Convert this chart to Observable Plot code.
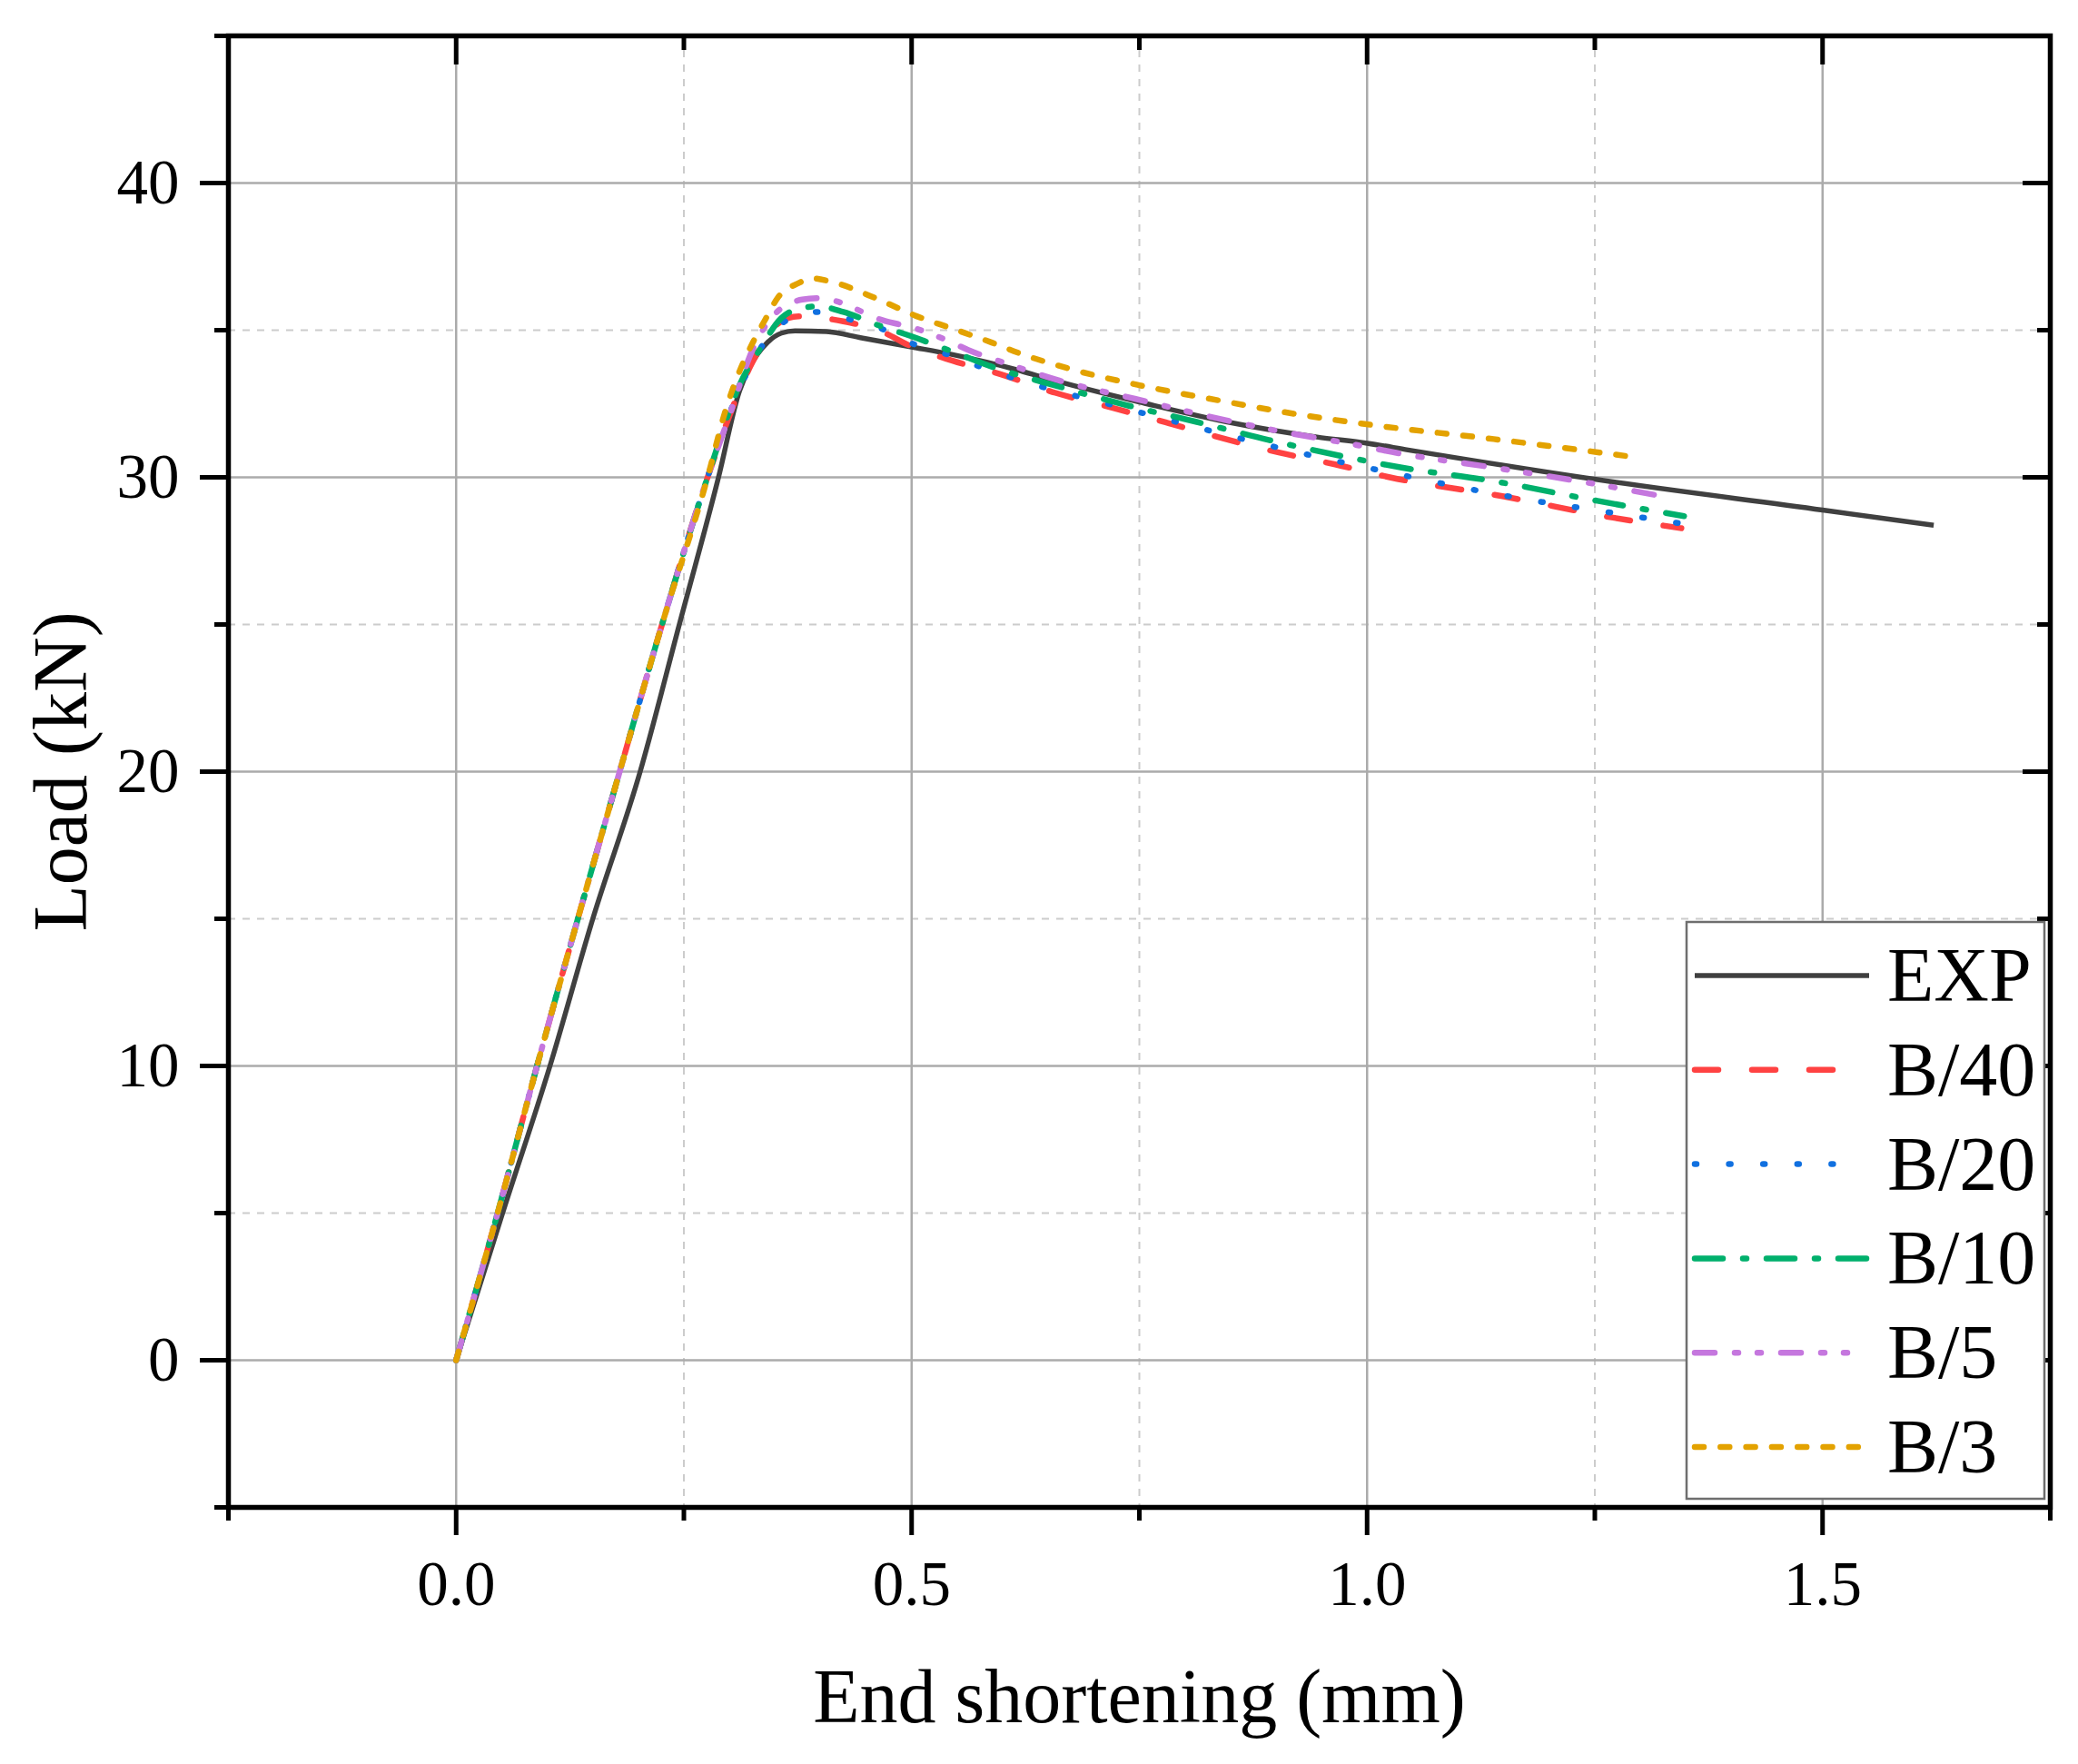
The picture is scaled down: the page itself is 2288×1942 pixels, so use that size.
<!DOCTYPE html>
<html>
<head>
<meta charset="utf-8">
<script src="https://cdn.jsdelivr.net/npm/d3@7"></script>
<script src="https://cdn.jsdelivr.net/npm/@observablehq/plot@0.6"></script>
<style>
  html, body { margin: 0; padding: 0; background: #fff; }
  #chart { width: 2288px; height: 1942px; }
</style>
</head>
<body>
<div id="chart"></div>
<script>
// ---- series meta ----
const seriesNames  = ["EXP", "B/40", "B/20", "B/10", "B/5", "B/3"];
const seriesColors = ["#404040", "#ff4242", "#1070e0", "#00b06c", "#c577de", "#e3a200"];
const seriesDash   = [null, "26 37", "2 35.6", "31 22 4 22", "22 22 4 21 4 22", "10 18.3"];

// ---- data (end shortening mm, load kN) ----
const expX = [0, 0.051, 0.103, 0.150, 0.202, 0.245, 0.288, 0.311, 0.3225, 0.342, 0.357, 0.372, 0.4065, 0.445, 0.50, 0.545, 0.616, 0.645, 0.75, 0.845, 0.945, 1.0, 1.045, 1.253, 1.5, 1.622];
const expY = [0, 5, 10, 15, 20, 25, 30, 32.93, 33.76, 34.59, 34.9, 34.98, 34.95, 34.74, 34.43, 34.17, 33.65, 33.39, 32.56, 31.89, 31.37, 31.16, 30.93, 29.92, 28.89, 28.37];

const b40X = [0, 0.0455, 0.0888, 0.1336, 0.1795, 0.226, 0.276, 0.326, 0.349, 0.3645, 0.376, 0.425, 0.471, 0.494, 0.545, 0.598, 0.658, 0.722, 0.782, 0.842, 0.902, 0.965, 1.025, 1.15, 1.27, 1.345];
const b40Y = [0, 5, 10, 15, 20, 25, 30, 33.96, 35.1, 35.41, 35.47, 35.3, 34.9, 34.53, 33.96, 33.5, 32.87, 32.35, 31.84, 31.32, 30.85, 30.44, 30.0, 29.35, 28.63, 28.27];

const b20X = [0, 0.0455, 0.0888, 0.1336, 0.1795, 0.226, 0.276, 0.311, 0.334, 0.361, 0.397, 0.433, 0.471, 0.502, 0.54, 0.575, 0.648, 0.72, 0.792, 0.865, 0.938, 1.012, 1.156, 1.27, 1.345];
const b20Y = [0, 5, 10, 15, 20, 25, 30, 33.0, 34.38, 35.3, 35.62, 35.36, 35.0, 34.53, 34.17, 33.76, 33.03, 32.46, 31.87, 31.29, 30.75, 30.25, 29.35, 28.79, 28.43];

const b10X = [0, 0.0455, 0.0888, 0.1336, 0.1795, 0.226, 0.276, 0.311, 0.334, 0.357, 0.376, 0.397, 0.425, 0.464, 0.5, 0.545, 0.588, 0.662, 0.735, 0.812, 0.892, 0.968, 1.038, 1.139, 1.253, 1.348];
const b10Y = [0, 5, 10, 15, 20, 25, 30, 33.13, 34.38, 35.41, 35.73, 35.81, 35.62, 35.16, 34.79, 34.27, 33.76, 33.08, 32.46, 31.89, 31.27, 30.75, 30.33, 29.87, 29.2, 28.68];

const b5X = [0, 0.0455, 0.0888, 0.1336, 0.1795, 0.226, 0.276, 0.3, 0.326, 0.349, 0.38, 0.399, 0.41, 0.471, 0.5, 0.54, 0.562, 0.605, 0.662, 0.745, 0.845, 0.912, 0.978, 1.038, 1.139, 1.253, 1.325];
const b5Y = [0, 5, 10, 15, 20, 25, 30, 32.1, 34.38, 35.52, 36.04, 36.09, 36.04, 35.31, 35.1, 34.64, 34.33, 33.86, 33.29, 32.67, 31.94, 31.52, 31.16, 30.8, 30.33, 29.76, 29.35];

const b3X = [0, 0.0455, 0.0888, 0.1336, 0.1795, 0.226, 0.276, 0.296, 0.311, 0.326, 0.34, 0.353, 0.376, 0.391, 0.41, 0.464, 0.502, 0.545, 0.588, 0.618, 0.672, 0.75, 0.838, 0.922, 1.005, 1.139, 1.293];
const b3Y = [0, 5, 10, 15, 20, 25, 30, 32.3, 33.6, 34.6, 35.4, 36.1, 36.6, 36.76, 36.66, 36.04, 35.52, 35.05, 34.58, 34.22, 33.7, 33.13, 32.61, 32.15, 31.78, 31.3, 30.69];

// ---- ticks ----
const xMajor = [0, 0.5, 1.0, 1.5];
const xMinor = [-0.25, 0.25, 0.75, 1.25, 1.75];
const yMajor = [0, 10, 20, 30, 40];
const yMinor = [-5, 5, 15, 25, 35, 45];
const xLabel = "End shortening (mm)";
const yLabel = "Load (kN)";

const seriesX = [expX, b40X, b20X, b10X, b5X, b3X];
const seriesY = [expY, b40Y, b20Y, b10Y, b5Y, b3Y];
const tables = seriesNames.map((name, i) => seriesX[i].map((x, j) => ({series: name, x, y: seriesY[i][j]})));

const FONT = "'Liberation Serif', 'Times New Roman', serif";
const noText = () => "";

const lineMarks = tables.map((t, i) => Plot.line(t, {
  x: "x", y: "y",
  stroke: seriesColors[i],
  strokeWidth: i === 0 ? 5.5 : 6.5,
  strokeDasharray: seriesDash[i] ?? undefined,
  strokeLinecap: i === 0 ? "butt" : "round",
  strokeLinejoin: "round",
  curve: "monotone-x"
}));

const plot = Plot.plot({
  width: 2288,
  height: 1942,
  marginTop: 39,
  marginRight: 31,
  marginBottom: 283,
  marginLeft: 251,
  style: {fontFamily: FONT, fontSize: "69px", color: "black", background: "white"},
  x: {domain: [-0.25, 1.75], label: null},
  y: {domain: [-5, 45], label: null},
  marks: [
    Plot.gridX(xMinor.slice(1, -1), {stroke: "#cccccc", strokeOpacity: 1, strokeWidth: 2, strokeDasharray: "8 8"}),
    Plot.gridY(yMinor.slice(1, -1), {stroke: "#cccccc", strokeOpacity: 1, strokeWidth: 2, strokeDasharray: "8 8"}),
    Plot.gridX(xMajor, {stroke: "#ababab", strokeOpacity: 1, strokeWidth: 2.5}),
    Plot.gridY(yMajor, {stroke: "#ababab", strokeOpacity: 1, strokeWidth: 2.5}),
    ...lineMarks,
    Plot.frame({stroke: "black", strokeWidth: 5.5}),
    // bottom / left major with labels (outward)
    Plot.axisX(xMajor, {anchor: "bottom", tickSize: 31, tickPadding: 27, strokeWidth: 5, fontSize: 69, tickFormat: d3.format(".1f"), label: null}),
    Plot.axisY(yMajor, {anchor: "left", tickSize: 31, tickPadding: 23, strokeWidth: 5, fontSize: 69, tickFormat: d3.format("d"), label: null}),
    // minor outward
    Plot.axisX(xMinor, {anchor: "bottom", tickSize: 15, strokeWidth: 5, tickFormat: noText, label: null}),
    Plot.axisY(yMinor, {anchor: "left", tickSize: 15, strokeWidth: 5, tickFormat: noText, label: null}),
    // top / right inward
    Plot.axisX(xMajor, {anchor: "top", tickSize: -31, strokeWidth: 5, tickFormat: noText, label: null}),
    Plot.axisX(xMinor, {anchor: "top", tickSize: -15, strokeWidth: 5, tickFormat: noText, label: null}),
    Plot.axisY(yMajor, {anchor: "right", tickSize: -31, strokeWidth: 5, tickFormat: noText, label: null}),
    Plot.axisY(yMinor, {anchor: "right", tickSize: -15, strokeWidth: 5, tickFormat: noText, label: null}),
    // axis titles
    Plot.text([xLabel], {frameAnchor: "bottom", dy: 236, lineAnchor: "bottom", textAnchor: "middle", fontSize: 84, fill: "black"}),
    Plot.text([yLabel], {frameAnchor: "left", dx: -216, rotate: -90, lineAnchor: "top", textAnchor: "middle", fontSize: 84, fill: "black"})
  ]
});

document.getElementById("chart").appendChild(plot);

// ---- legend (inside plot area, bottom-right) ----
const legendSampleEnd = [2058, 2026, 2026, 2058, 2042, 2052];
const svg = d3.select(plot);
const lg = svg.append("g").attr("class", "legend");
lg.append("rect")
  .attr("x", 1857).attr("y", 1015).attr("width", 394).attr("height", 635)
  .attr("fill", "white").attr("stroke", "#6e6e6e").attr("stroke-width", 2.5);
seriesNames.forEach((name, i) => {
  const cy = 1074 + i * 103.8;
  lg.append("line")
    .attr("x1", 1866).attr("x2", legendSampleEnd[i]).attr("y1", cy).attr("y2", cy)
    .attr("stroke", seriesColors[i])
    .attr("stroke-width", i === 0 ? 5.5 : 6.5)
    .attr("stroke-linecap", i === 0 ? "butt" : "round")
    .attr("stroke-dasharray", seriesDash[i]);
  lg.append("text")
    .attr("x", 2078).attr("y", cy + 28)
    .attr("text-anchor", "start")
    .attr("font-family", FONT).attr("font-size", 84).attr("fill", "black")
    .text(name);
});
</script>
</body>
</html>
